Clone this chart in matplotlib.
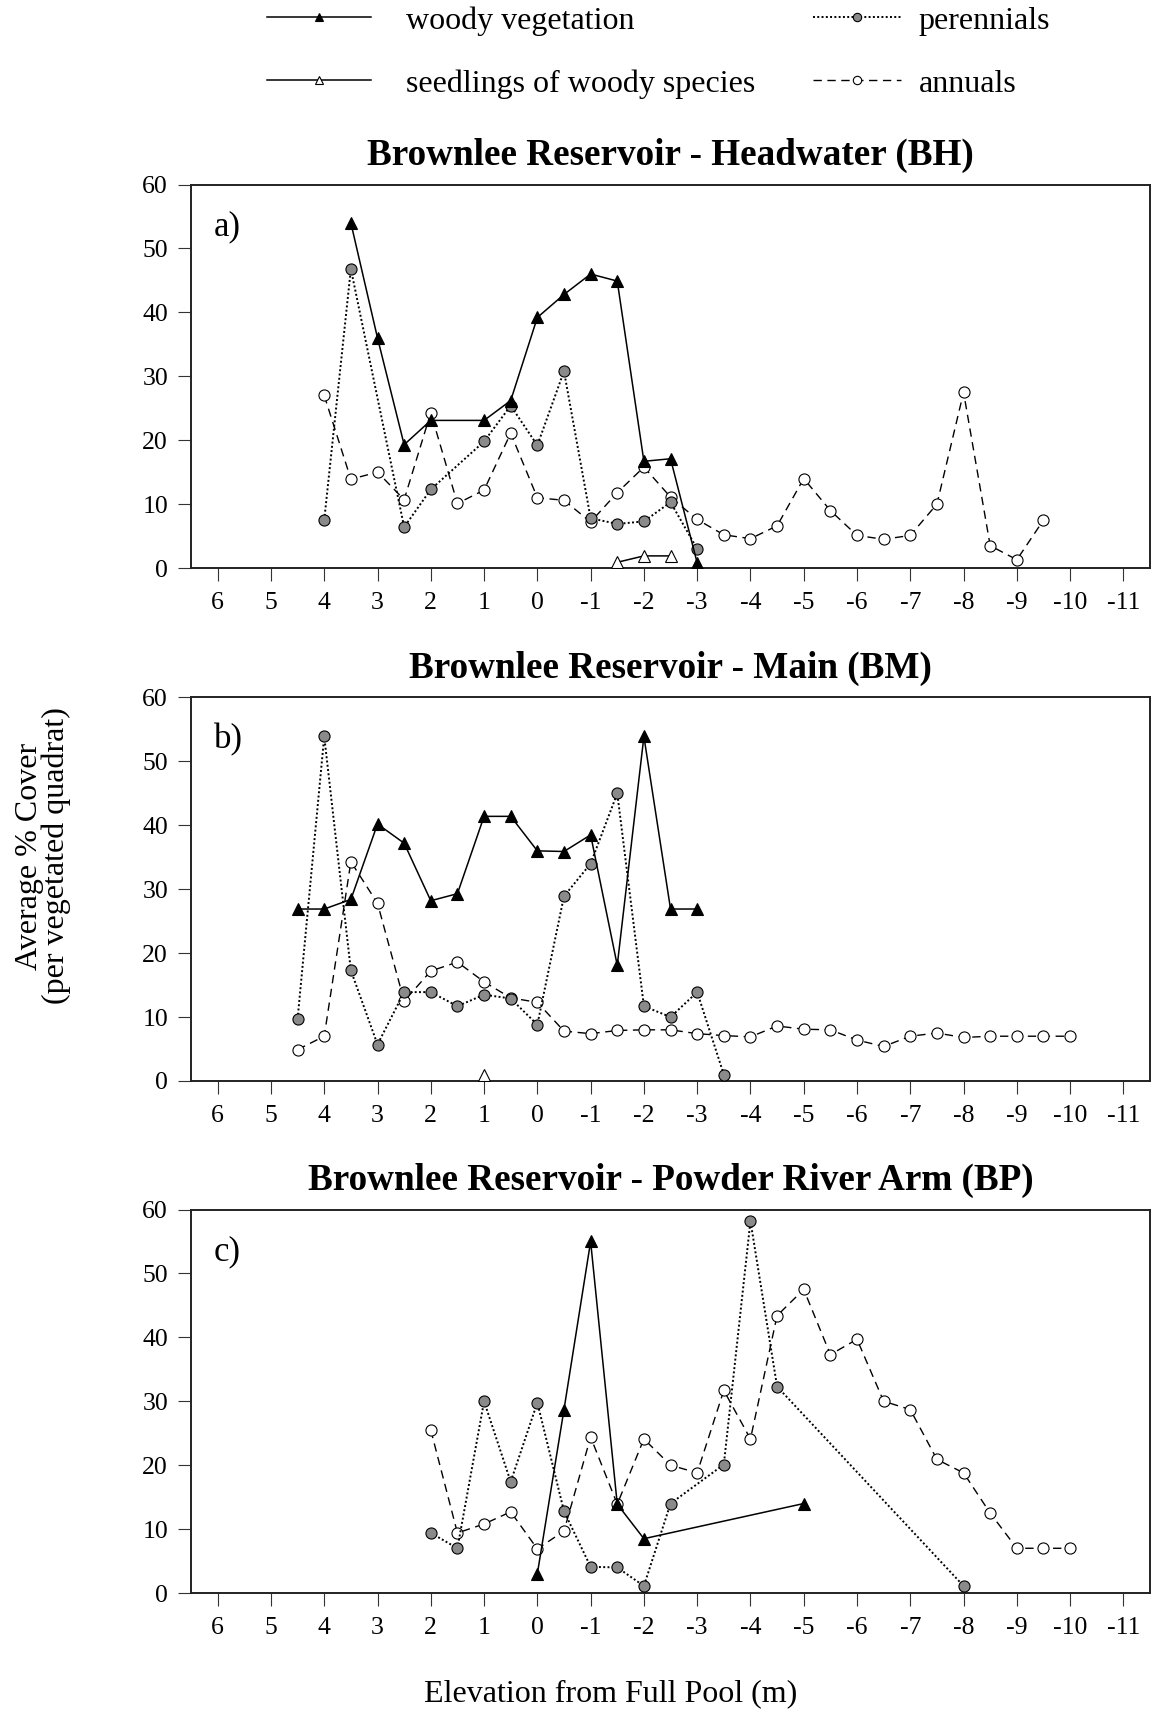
import matplotlib.pyplot as plt
from matplotlib.lines import Line2D

plt.rcParams['font.family'] = ['Liberation Serif', 'DejaVu Serif']
plt.rcParams['axes.unicode_minus'] = False

# a) Brownlee Reservoir - Headwater (BH)
bh_woody_x = [3.5, 3, 2.5, 2, 1, 0.5, 0, -0.5, -1, -1.5, -2, -2.5, -3]
bh_woody_y = [54.0, 36.0, 19.3, 23.1, 23.1, 26.2, 39.2, 42.8, 46.0, 44.9, 16.7, 17.1, 0.8]
bh_seed_x = [-1.5, -2, -2.5]
bh_seed_y = [0.9, 1.9, 1.9]
bh_per_x = [4, 3.5, 2.5, 2, 1, 0.5, 0, -0.5, -1, -1.5, -2, -2.5, -3]
bh_per_y = [7.5, 46.8, 6.4, 12.3, 19.8, 25.4, 19.2, 30.8, 7.8, 6.9, 7.3, 10.3, 3.0]
bh_ann_x = [4, 3.5, 3, 2.5, 2, 1.5, 1, 0.5, 0, -0.5, -1, -1.5, -2, -2.5,
            -3, -3.5, -4, -4.5, -5, -5.5, -6, -6.5, -7, -7.5, -8, -8.5, -9, -9.5]
bh_ann_y = [27.0, 13.9, 15.0, 10.7, 24.3, 10.1, 12.2, 21.1, 11.0, 10.6, 7.2, 11.8, 15.8, 11.1,
            7.6, 5.2, 4.6, 6.6, 14.0, 9.0, 5.1, 4.5, 5.1, 10.0, 27.5, 3.5, 1.3, 7.5]

# b) Brownlee Reservoir - Main (BM)
bm_woody_x = [4.5, 4, 3.5, 3, 2.5, 2, 1.5, 1, 0.5, 0, -0.5, -1, -1.5, -2, -2.5, -3]
bm_woody_y = [26.9, 26.9, 28.4, 40.2, 37.2, 28.2, 29.3, 41.4, 41.4, 36.0, 35.9, 38.5, 18.1, 53.9, 26.9, 26.9]
bm_seed_x = [1]
bm_seed_y = [0.9]
bm_per_x = [4.5, 4, 3.5, 3, 2.5, 2, 1.5, 1, 0.5, 0, -0.5, -1, -1.5, -2, -2.5, -3, -3.5]
bm_per_y = [9.7, 53.9, 17.3, 5.7, 13.9, 13.9, 11.7, 13.5, 12.9, 8.8, 28.9, 34.0, 45.0, 11.7, 10.0, 13.9, 1.0]
bm_ann_x = [4.5, 4, 3.5, 3, 2.5, 2, 1.5, 1, 0.5, 0, -0.5, -1, -1.5, -2, -2.5,
            -3, -3.5, -4, -4.5, -5, -5.5, -6, -6.5, -7, -7.5, -8, -8.5, -9, -9.5, -10]
bm_ann_y = [4.9, 7.0, 34.3, 27.8, 12.5, 17.2, 18.6, 15.5, 13.0, 12.3, 7.8, 7.4, 7.9, 8.0, 8.0,
            7.4, 7.1, 6.9, 8.6, 8.1, 8.0, 6.4, 5.4, 7.0, 7.5, 6.8, 7.0, 7.0, 7.0, 7.0]

# c) Brownlee Reservoir - Powder River Arm (BP)
bp_woody_x = [0, -0.5, -1, -1.5, -2, -5]
bp_woody_y = [3.0, 28.7, 55.0, 13.9, 8.5, 14.0]
bp_seed_x = []
bp_seed_y = []
bp_per_x = [2, 1.5, 1, 0.5, 0, -0.5, -1, -1.5, -2, -2.5, -3.5, -4, -4.5, -8]
bp_per_y = [9.4, 7.0, 30.0, 17.4, 29.8, 12.8, 4.1, 4.0, 1.1, 14.0, 20.1, 58.2, 32.3, 1.1]
bp_ann_x = [2, 1.5, 1, 0.5, 0, -0.5, -1, -1.5, -2, -2.5, -3, -3.5, -4,
            -4.5, -5, -5.5, -6, -6.5, -7, -7.5, -8, -8.5, -9, -9.5, -10]
bp_ann_y = [25.5, 9.4, 10.8, 12.7, 6.9, 9.7, 24.4, 13.9, 24.1, 20.0, 18.8, 31.7, 24.1,
            43.4, 47.5, 37.3, 39.7, 30.0, 28.7, 20.9, 18.8, 12.5, 7.0, 7.0, 7.0]

titles = ['Brownlee Reservoir - Headwater (BH)',
          'Brownlee Reservoir - Main (BM)',
          'Brownlee Reservoir - Powder River Arm (BP)']
panel_tags = ['a)', 'b)', 'c)']
xticks = [6, 5, 4, 3, 2, 1, 0, -1, -2, -3, -4, -5, -6, -7, -8, -9, -10, -11]
yticks = [0, 10, 20, 30, 40, 50, 60]

gray = '#8a8a8a'
woody_style = dict(color='black', lw=1.1, marker='^', ms=8, mfc='black', mec='black', mew=0.8, zorder=5)
seed_style = dict(color='black', lw=1.1, marker='^', ms=8, mfc='white', mec='black', mew=0.8, zorder=4)
per_style = dict(color='black', lw=1.4, ls=(0, (1, 1.2)), marker='o', ms=8, mfc=gray, mec='black', mew=0.8, zorder=3)
ann_style = dict(color='black', lw=1.0, ls=(0, (6, 4)), marker='o', ms=8, mfc='white', mec='black', mew=0.8, zorder=2)

panels = [
    (bh_woody_x, bh_woody_y, bh_seed_x, bh_seed_y, bh_per_x, bh_per_y, bh_ann_x, bh_ann_y),
    (bm_woody_x, bm_woody_y, bm_seed_x, bm_seed_y, bm_per_x, bm_per_y, bm_ann_x, bm_ann_y),
    (bp_woody_x, bp_woody_y, bp_seed_x, bp_seed_y, bp_per_x, bp_per_y, bp_ann_x, bp_ann_y),
]

fig = plt.figure(figsize=(11.55, 17.12), dpi=100)
bottoms = [0.6682, 0.3686, 0.0695]

for i, (wx, wy, sx, sy, px, py, ax_, ay) in enumerate(panels):
    ax = fig.add_axes([0.1654, bottoms[i], 0.8303, 0.2240])
    ax.plot(ax_, ay, **ann_style)
    ax.plot(px, py, **per_style)
    if sx:
        ax.plot(sx, sy, **seed_style)
    ax.plot(wx, wy, **woody_style)

    ax.set_xlim(6.5, -11.5)
    ax.set_ylim(0, 60)
    ax.set_xticks(xticks)
    ax.set_xticklabels([str(t) for t in xticks])
    ax.set_yticks(yticks)
    ax.tick_params(axis='both', direction='out', length=9.5, width=0.8, color='#333333',
                   labelsize=18.5, pad=7)
    ax.tick_params(axis='x', pad=8)
    for sp in ax.spines.values():
        sp.set_linewidth(1.4)
        sp.set_color('#222222')
    ax.set_title(titles[i], fontsize=26.7, fontweight='bold', pad=14)
    ax.text(0.024, 0.89, panel_tags[i], transform=ax.transAxes, fontsize=25,
            ha='left', va='center')

fig.text(0.037, 0.5, 'Average % Cover\n(per vegetated quadrat)', rotation=90,
         ha='center', va='center', fontsize=23, linespacing=0.9, multialignment='center')
fig.text(0.529, 0.0105, 'Elevation from Full Pool (m)', ha='center', va='center', fontsize=23)

leg_kw = dict(frameon=False, fontsize=23, borderpad=0, borderaxespad=0,
              labelspacing=1.05, markerscale=0.75, loc='center left')
h_woody = Line2D([], [], **{k: v for k, v in woody_style.items() if k != 'zorder'})
h_seed = Line2D([], [], **{k: v for k, v in seed_style.items() if k != 'zorder'})
h_per = Line2D([], [], **{k: v for k, v in per_style.items() if k != 'zorder'})
h_ann = Line2D([], [], **{k: v for k, v in ann_style.items() if k != 'zorder'})
fig.legend([h_woody, h_seed], ['woody vegetation', 'seedlings of woody species'],
           bbox_to_anchor=(0.2312, 0.9694), handlelength=3.25, handletextpad=1.1, **leg_kw)
fig.legend([h_per, h_ann], ['perennials', 'annuals'],
           bbox_to_anchor=(0.7039, 0.9694), handlelength=2.75, handletextpad=0.55, **leg_kw)

fig.savefig('out.png', dpi=100)
